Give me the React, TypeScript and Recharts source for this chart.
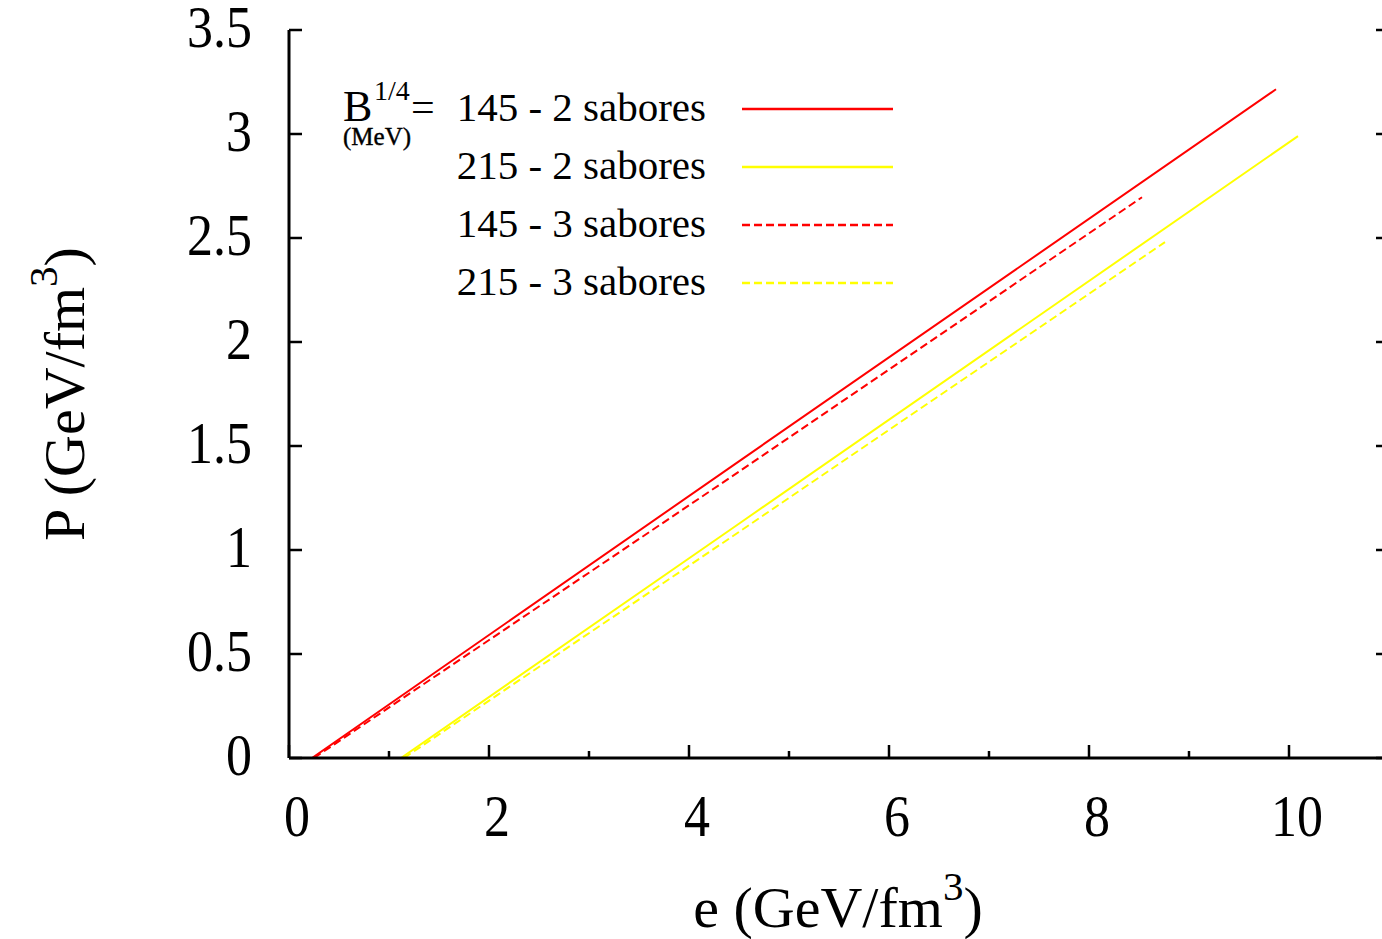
import { LineChart, Line, XAxis, YAxis, Legend } from "recharts";

const FONT = '"Liberation Serif", "Times New Roman", Times, serif';

// axis ticks: even energies get a label, odd ones are short minor ticks
const energyTicks = [0, 1, 2, 3, 4, 5, 6, 7, 8, 9, 10];
const pressureTicks = [0, 0.5, 1, 1.5, 2, 2.5, 3, 3.5];

// P(e) for the bag model, e and P in GeV/fm^3
const bag145TwoFlavours = [
  { e: 0.23, p: 0 },
  { e: 4.51, p: 1.43 },
  { e: 9.87, p: 3.215 },
];
const bag215TwoFlavours = [
  { e: 1.12, p: 0 },
  { e: 4.51, p: 1.13 },
  { e: 10.09, p: 2.99 },
];
const bag145ThreeFlavours = [
  { e: 0.25, p: 0 },
  { e: 4.51, p: 1.38 },
  { e: 8.53, p: 2.696 },
];
const bag215ThreeFlavours = [
  { e: 1.15, p: 0 },
  { e: 4.51, p: 1.09 },
  { e: 8.76, p: 2.48 },
];

const seriesNames = ["145 - 2 sabores", "215 - 2 sabores", "145 - 3 sabores", "215 - 3 sabores"];

const series = [
  { name: seriesNames[0], data: bag145TwoFlavours, color: "#ff0000", dash: undefined },
  { name: seriesNames[1], data: bag215TwoFlavours, color: "#ffff00", dash: undefined },
  { name: seriesNames[2], data: bag145ThreeFlavours, color: "#ff0000", dash: "8 4" },
  { name: seriesNames[3], data: bag215ThreeFlavours, color: "#ffff00", dash: "8 4" },
];

const TICK_FONT = 52;
const TICK_STRETCH = 1.12;

function BottomTick(props: any) {
  const { x, y, payload } = props;
  const v = payload.value as number;
  const major = v % 2 === 0;
  return (
    <g>
      <line x1={x} x2={x} y1={y} y2={y - (major ? 13 : 7)} stroke="#000" strokeWidth={2.5} />
      {major && (
        <text
          transform={`translate(${x + 8},${y + 78}) scale(1,${TICK_STRETCH})`}
          textAnchor="middle"
          fontFamily={FONT}
          fontSize={TICK_FONT}
          fill="#000"
        >
          {v}
        </text>
      )}
    </g>
  );
}

function TopTick(props: any) {
  const { x, y, payload } = props;
  const major = (payload.value as number) % 2 === 0;
  return <line x1={x} x2={x} y1={y} y2={y + (major ? 13 : 7)} stroke="#000" strokeWidth={2.5} />;
}

function LeftTick(props: any) {
  const { x, y, payload } = props;
  return (
    <g>
      <line x1={x} x2={x + 13} y1={y} y2={y} stroke="#000" strokeWidth={2.5} />
      <text
        transform={`translate(${x - 37},${y + 17}) scale(1,${TICK_STRETCH})`}
        textAnchor="end"
        fontFamily={FONT}
        fontSize={TICK_FONT}
        fill="#000"
      >
        {String(payload.value)}
      </text>
    </g>
  );
}

function RightTick(props: any) {
  const { x, y } = props;
  return <line x1={x} x2={x - 13} y1={y} y2={y} stroke="#000" strokeWidth={2.5} />;
}

function XTitle(props: any) {
  const vb = props.viewBox;
  return (
    <text x={vb.x + vb.width / 2 - 1} y={vb.y + 169} textAnchor="middle" fontFamily={FONT} fontSize={58} fill="#000">
      e (GeV/fm
      <tspan dy={-27} fontSize={41}>3</tspan>
      <tspan dy={27}>)</tspan>
    </text>
  );
}

function YTitle(props: any) {
  const vb = props.viewBox;
  const cx = 84;
  const cy = vb.y + vb.height / 2;
  return (
    <text
      transform={`translate(${cx},${cy}) rotate(-90)`}
      textAnchor="middle"
      fontFamily={FONT}
      fontSize={58}
      fill="#000"
    >
      P (GeV/fm
      <tspan dy={-27} fontSize={41}>3</tspan>
      <tspan dy={27}>)</tspan>
    </text>
  );
}

function SeriesKey() {
  return (
    <svg width={920} height={320} style={{ display: "block", fontFamily: FONT }}>
      <text x={343} y={121} fontSize={44} fill="#000">B</text>
      <text x={374} y={100} fontSize={28} fill="#000">1/4</text>
      <text x={411} y={121} fontSize={42} fill="#000">=</text>
      <text x={343} y={145} fontSize={25} fill="#000" stroke="#000" strokeWidth={0.4}>(MeV)</text>
      {series.map((s, i) => (
        <g key={s.name}>
          <text x={706} y={121 + i * 58} textAnchor="end" fontSize={41} fill="#000">
            {s.name}
          </text>
          <line
            x1={742}
            x2={893}
            y1={109 + i * 58}
            y2={109 + i * 58}
            stroke={s.color}
            strokeWidth={2.5}
            strokeDasharray={s.dash}
          />
        </g>
      ))}
    </svg>
  );
}

export default function App() {
  return (
    <div
      style={{
        position: "fixed",
        left: 0,
        top: 0,
        width: 1382,
        height: 939,
        overflow: "hidden",
        background: "#fff",
      }}
    >
      <LineChart width={1400} height={939} margin={{ top: 30, right: 0, bottom: 0, left: 0 }}>
        <XAxis
          xAxisId="bottom"
          type="number"
          dataKey="e"
          domain={[0, 11]}
          ticks={energyTicks}
          interval={0}
          height={181}
          allowDataOverflow
          axisLine={{ stroke: "#000", strokeWidth: 3 }}
          tickLine={false}
          tickSize={0}
          tickMargin={0}
          tick={<BottomTick />}
          label={<XTitle />}
        />
        <XAxis
          xAxisId="top"
          orientation="top"
          type="number"
          dataKey="e"
          domain={[0, 11]}
          ticks={energyTicks}
          interval={0}
          height={0}
          allowDataOverflow
          axisLine={{ stroke: "#000", strokeWidth: 3 }}
          tickLine={false}
          tickSize={0}
          tickMargin={0}
          tick={<TopTick />}
        />
        <YAxis
          yAxisId="left"
          type="number"
          domain={[0, 3.5]}
          ticks={pressureTicks}
          interval={0}
          width={289}
          allowDataOverflow
          axisLine={{ stroke: "#000", strokeWidth: 3 }}
          tickLine={false}
          tickSize={0}
          tickMargin={0}
          tick={<LeftTick />}
          label={<YTitle />}
        />
        <YAxis
          yAxisId="right"
          orientation="right"
          type="number"
          domain={[0, 3.5]}
          ticks={pressureTicks}
          interval={0}
          width={11}
          allowDataOverflow
          axisLine={{ stroke: "#000", strokeWidth: 3 }}
          tickLine={false}
          tickSize={0}
          tickMargin={0}
          tick={<RightTick />}
        />
        <Legend
          layout="horizontal"
          verticalAlign="middle"
          align="center"
          wrapperStyle={{ top: 0, left: 0, width: 920, height: 320 }}
          content={() => <SeriesKey />}
        />
        {series.map((s) => (
          <Line
            key={s.name}
            xAxisId="bottom"
            yAxisId="left"
            name={s.name}
            data={s.data}
            dataKey="p"
            type="linear"
            stroke={s.color}
            strokeWidth={2}
            strokeDasharray={s.dash}
            dot={false}
            activeDot={false}
            isAnimationActive={false}
          />
        ))}
      </LineChart>
    </div>
  );
}
